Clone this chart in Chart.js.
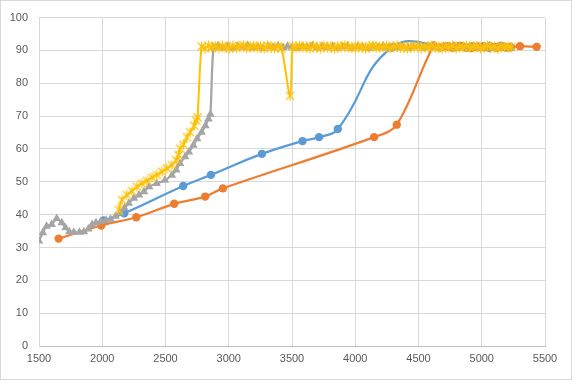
<!DOCTYPE html>
<html><head><meta charset="utf-8">
<style>html,body{margin:0;padding:0;background:#fff}canvas{display:block}</style>
<script src="https://cdn.jsdelivr.net/npm/chart.js@4/dist/chart.umd.min.js"></script>
</head><body>
<canvas id="c" width="584" height="392"></canvas>
<script>
const xTicks = [1500,2000,2500,3000,3500,4000,4500,5000,5500];
const yTicks = [0,10,20,30,40,50,60,70,80,90,100];

const bluePts = [[2010,38.2],[2174,40.4],[2640,48.7],[2859,52.1],[3262,58.5],[3583,62.4],[3714,63.6],[3862,66.1],
  [4290,90.9],[4740,91.2],[4790,91.0],[4835,91.4],[4880,90.8],[4925,91.2],
  [4970,91.0],[5015,91.3],[5060,90.7],[5105,91.1],[5150,91.4],[5195,90.9],[5230,91.0]];

const orangePts = [[1655,32.7],[1992,36.7],[2269,39.2],[2569,43.3],[2814,45.5],[2954,48.0],[4149,63.6],[4328,67.4],
  [4620,91.5],[4670,90.9],[4720,91.2],[4770,90.8],[4820,91.3],[4870,91.0],[4920,90.7],[4970,91.2],[5020,91.0],
  [5070,91.3],[5120,90.8],[5170,91.1],[5220,91.0],[5302,91.3],[5434,91.1]];

const grayPts = [[1500,32],[1530,34.5],[1560,36.5],[1600,37],[1640,38.8],[1680,37.5],[1710,36],[1740,34.8],[1775,34.6],
  [1820,34.6],[1855,34.8],[1890,35.6],[1920,37],[1950,37.5],[1990,38],[2030,38.3],[2065,38.6],[2105,39.5],[2140,40.5],
  [2175,42],[2210,43.5],[2250,45],[2290,46],[2330,47],[2370,48.5],[2430,49.5],[2495,50.5],[2550,52],[2585,53.6],
  [2615,55.6],[2655,57.6],[2685,59.1],[2720,61.1],[2750,63.1],[2785,65.1],[2815,67.1],[2840,69.1],[2855,70.6],
  [2880,91.0],[2915,91.4],[2950,90.8],[2990,91.2],[3030,90.7],[3070,91.3],[3110,91.0],[3150,91.5],[3190,90.8],
  [3230,91.1],[3270,90.6],[3310,91.3],[3350,91.0],[3390,91.4],[3430,90.9],[3464,91.3],[3500,91.0],[3540,90.7],
  [3580,91.2],[3620,91.0],[3660,91.4],[3700,90.8],[3740,91.2],[3780,90.9],[3820,91.3],[3860,90.7],[3900,91.1],
  [3940,91.4],[3980,90.8],[4020,91.2],[4060,91.0],[4100,90.6],[4140,91.3],[4180,91.0],[4220,91.4],[4260,90.8],
  [4300,91.2],[4340,90.9],[4380,91.3],[4420,90.7],[4460,91.1],[4500,91.4],[4540,90.8],[4580,91.2],[4620,91.0],
  [4660,90.7],[4700,91.3],[4740,91.0],[4780,91.4],[4820,90.8],[4860,91.2],[4900,90.9],[4940,91.3],[4980,90.7],
  [5020,91.1],[5060,91.4],[5100,90.8],[5140,91.2],[5180,91.0],[5225,91.1]];

const yellowPts = [[2130,41.5],[2156,44.5],[2195,46],[2235,47.2],[2274,48.5],[2314,49.5],[2353,50.3],[2393,51.3],
  [2432,52.1],[2472,53.1],[2511,54.1],[2551,55.1],[2585,56.6],[2603,58.1],[2616,60.1],[2642,61.3],[2669,63.6],
  [2695,65.1],[2727,67.1],[2743,68.6],[2753,69.6],
  [2785,91.2],[2812,90.6],[2840,91.5],[2866,90.9],[2895,91.3],[2921,90.7],[2950,91.4],[2978,91.0],[3004,90.6],
  [3033,91.5],[3060,90.8],[3088,91.2],[3115,91.6],[3142,90.7],[3170,91.1],[3198,91.4],[3225,90.8],[3251,91.3],
  [3280,90.6],[3307,91.5],[3335,91.0],[3362,90.7],[3390,91.3],[3418,90.6],[3485,76.2],[3505,91.3],[3532,90.8],
  [3560,91.5],[3587,90.9],[3615,91.2],[3642,90.6],[3670,91.4],[3697,91.0],[3725,90.7],[3752,91.5],[3780,90.9],
  [3807,91.2],[3835,90.6],[3862,91.3],[3890,91.0],[3917,91.6],[3945,90.8],[3972,91.1],[4000,90.7],[4027,91.4],
  [4055,91.0],[4082,90.6],[4110,91.3],[4137,91.5],[4165,90.8],[4192,91.2],[4220,90.9],[4247,91.4],[4275,90.7],
  [4302,91.1],[4330,91.5],[4357,90.8],[4385,91.2],[4412,90.6],[4440,91.3],[4467,91.0],[4495,91.4],[4522,90.7],
  [4550,91.2],[4577,90.9],[4605,91.5],[4632,90.8],[4660,91.1],[4687,90.6],[4715,91.3],[4742,91.0],[4770,91.4],
  [4797,90.7],[4825,91.2],[4852,90.9],[4880,91.5],[4907,90.8],[4935,91.1],[4962,91.3],[4990,90.7],[5017,91.0],
  [5045,91.4],[5072,90.8],[5100,91.2],[5127,90.6],[5155,91.3],[5182,91.0],[5210,91.1],[5236,91.0]];

const toXY = a => a.map(p => ({x: p[0], y: p[1]}));

// Excel-like "star" marker (x with a vertical bar)
const star = document.createElement('canvas');
star.width = 11; star.height = 11;
(function(){
  const g = star.getContext('2d');
  g.strokeStyle = '#FFC000'; g.lineWidth = 1.1;
  g.beginPath();
  g.moveTo(1.5,1.5); g.lineTo(9.5,9.5);
  g.moveTo(9.5,1.5); g.lineTo(1.5,9.5);
  g.moveTo(5.5,0.5); g.lineTo(5.5,10.5);
  g.stroke();
})();

const frame = {
  id: 'frame',
  beforeDraw(chart) {
    const c = chart.ctx;
    c.save();
    c.fillStyle = '#fff';
    c.fillRect(0, 0, chart.width, chart.height);
    c.strokeStyle = '#D9D9D9';
    c.lineWidth = 1;
    c.strokeRect(0.5, 0.5, 571, 379);
    c.restore();
  }
};

new Chart(document.getElementById('c'), {
  type: 'scatter',
  data: {
    datasets: [
      {data: toXY(bluePts), order: 4, showLine: true, borderColor: '#5B9BD5', backgroundColor: '#5B9BD5',
       borderWidth: 2.25, pointRadius: 4.2, pointBorderWidth: 0, tension: 0.45, pointStyle: 'circle'},
      {data: toXY(orangePts), order: 3, showLine: true, borderColor: '#ED7D31', backgroundColor: '#ED7D31',
       borderWidth: 2.25, pointRadius: 4.2, pointBorderWidth: 0, tension: 0.35, pointStyle: 'circle'},
      {data: toXY(grayPts), order: 2, showLine: true, borderColor: '#A5A5A5', backgroundColor: '#A5A5A5',
       borderWidth: 2.25, pointRadius: 5, pointBorderWidth: 0, tension: 0.3, pointStyle: 'triangle'},
      {data: toXY(yellowPts), order: 1, showLine: true, borderColor: '#FFC000', backgroundColor: '#FFC000',
       borderWidth: 2, pointRadius: 5, tension: 0.3, pointStyle: star}
    ]
  },
  options: {
    responsive: false,
    animation: false,
    events: [],
    layout: {padding: {left: 0, top: 14, right: 39, bottom: 16}},
    plugins: {legend: {display: false}, tooltip: {enabled: false}},
    scales: {
      x: {
        type: 'linear', min: xTicks[0], max: xTicks[xTicks.length - 1],
        afterBuildTicks: s => { s.ticks = xTicks.map(v => ({value: v})); },
        afterFit: s => { s.height = 30; },
        grid: {color: '#D9D9D9', drawTicks: false},
        border: {color: '#BFBFBF'},
        ticks: {padding: 6, color: '#595959', font: {family: 'Liberation Sans', size: 11}, callback: v => String(v), maxRotation: 0}
      },
      y: {
        type: 'linear', min: yTicks[0], max: yTicks[yTicks.length - 1],
        afterBuildTicks: s => { s.ticks = yTicks.map(v => ({value: v})); },
        afterFit: s => { s.width = 39; },
        grid: {color: '#D9D9D9', drawTicks: false},
        border: {color: '#D9D9D9'},
        ticks: {padding: 11, color: '#595959', font: {family: 'Liberation Sans', size: 11}, callback: v => String(v)}
      }
    }
  },
  plugins: [frame]
});
</script>
</body></html>
